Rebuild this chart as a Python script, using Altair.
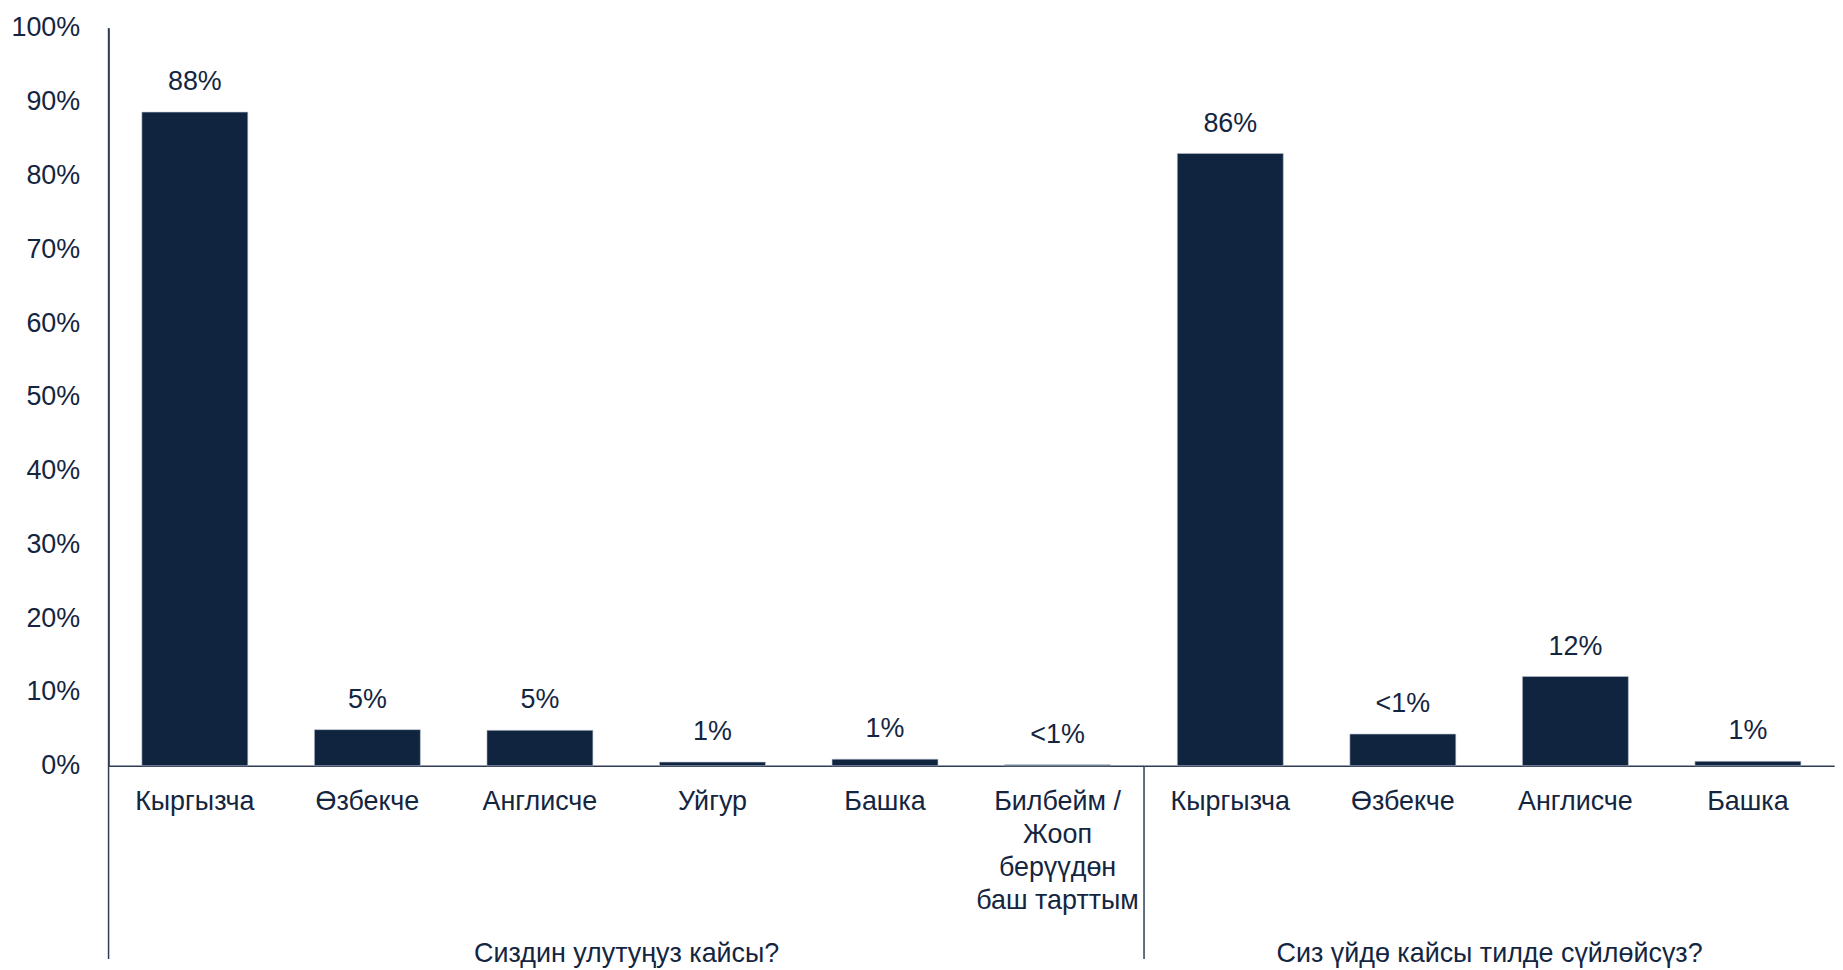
import altair as alt
import pandas as pd

# ---- data ----
group1 = "Сиздин улутуңуз кайсы?"
group2 = "Сиз үйдө кайсы тилде сүйлөйсүз?"

cats1 = ["Кыргызча", "Өзбекче", "Англисче", "Уйгур", "Башка",
         "Билбейм /|Жооп|берүүдөн|баш тарттым"]
vals1 = [88.6, 4.9, 4.8, 0.5, 0.9, 0.15]
labs1 = ["88%", "5%", "5%", "1%", "1%", "<1%"]

cats2 = ["Кыргызча", "Өзбекче", "Англисче", "Башка"]
vals2 = [83.0, 4.3, 12.1, 0.6]
labs2 = ["86%", "<1%", "12%", "1%"]

y_ticks = [0, 10, 20, 30, 40, 50, 60, 70, 80, 90, 100]

# ---- style ----
NAVY = "#10243F"
TEXT = "#14253F"
LINE = "#2E3D55"
FONT = "Liberation Sans"
STEP = 173.3
H = 741
DROP = 194  # how far separator lines run below the baseline


def panel(cats, vals, labs, title, first):
    df = pd.DataFrame({"cat": cats, "val": vals, "lab": labs})
    base = alt.Chart(df)
    x = alt.X(
        "cat:N", sort=None,
        scale=alt.Scale(paddingInner=0.386, paddingOuter=0.193),
        axis=alt.Axis(
            title=title, labelAngle=0, ticks=False,
            labelExpr="split(datum.label, '|')",
            labelFontSize=27, labelColor=TEXT, labelPadding=23,
            labelLineHeight=33, labelLimit=400, labelOverlap=False,
            domainColor=LINE, domainWidth=1.5,
            titleFontSize=27, titleFontWeight="normal", titleColor=TEXT,
            titleBaseline="middle", titleY=189,
        ),
    )
    if first:
        yax = alt.Axis(
            values=y_ticks, labelExpr="datum.value + '%'", grid=False,
            ticks=False, title=None, labelFontSize=27, labelColor=TEXT,
            labelPadding=29, domainColor=LINE, domainWidth=1.5,
        )
    else:
        yax = None
    y = alt.Y("val:Q", scale=alt.Scale(domain=[0, 100]), axis=yax)

    bars = base.mark_bar(color=NAVY, stroke="#B8C2CF", strokeWidth=0.6).encode(x=x, y=y)
    text = base.mark_text(dy=-30, fontSize=27, color=TEXT, baseline="middle").encode(
        x=x, y=y, text="lab:N")
    rule = alt.Chart(pd.DataFrame({"k": [0]})).mark_rule(
        color=LINE, strokeWidth=1.5).encode(
        x=alt.value(0),
        y=alt.value(0 if first else H),
        y2=alt.value(H + DROP),
    )
    return alt.layer(bars, text, rule).properties(width=STEP * len(cats), height=H)


c1 = panel(cats1, vals1, labs1, group1, True)
c2 = panel(cats2, vals2, labs2, group2, False)

chart = (
    alt.hconcat(c1, c2, spacing=0, bounds="flush")
    .properties(padding={"left": 2, "top": 4, "right": 0, "bottom": 0})
    .configure(font=FONT)
    .configure_view(stroke=None)
)

chart.save("out.html", embed_options={"renderer": "svg", "actions": False})
